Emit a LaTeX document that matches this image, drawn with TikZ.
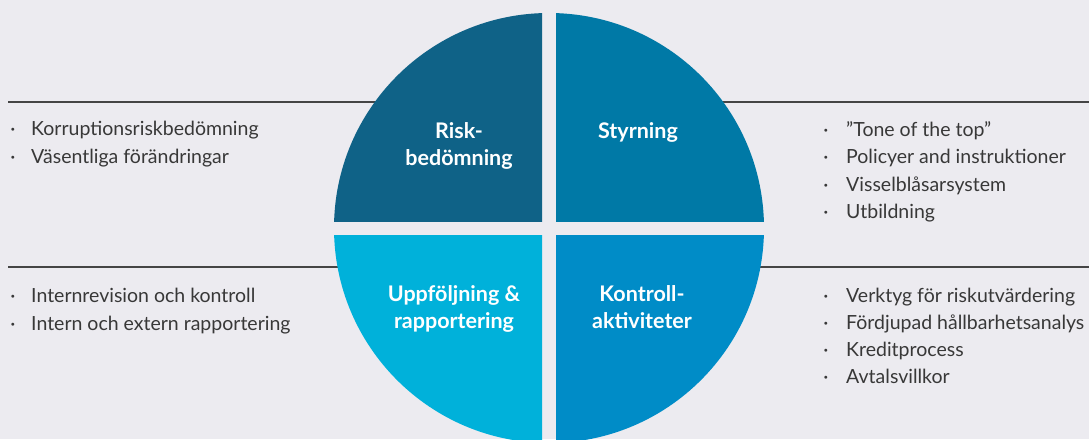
\documentclass[tikz,border=0pt]{standalone}
\usepackage{fontspec}
\setmainfont{Lato}
\definecolor{bgcol}{HTML}{ECEBF0}
\definecolor{txtcol}{HTML}{383838}
\definecolor{rulecol}{HTML}{454545}
\definecolor{riskcol}{HTML}{0F6287}
\definecolor{styrcol}{HTML}{0079A6}
\definecolor{uppfcol}{HTML}{00B1DA}
\definecolor{kontcol}{HTML}{008CC7}
\tikzset{
  item/.style={anchor=base west, inner sep=0pt, text=txtcol,
    font=\fontsize{19.5}{27}\selectfont},
  dotmark/.style={anchor=base, inner sep=0pt, text=txtcol,
    font=\fontsize{19.5}{27}\selectfont},
  quadlabel/.style={anchor=base, align=center, inner sep=0pt, text=white,
    font=\bfseries\fontsize{21.5}{27}\selectfont},
  rule/.style={draw=rulecol, line width=1.1pt}
}
\begin{document}
\begin{tikzpicture}[x=1pt, y=-1pt]
\fill[bgcol] (0,0) rectangle (1089,439);
\useasboundingbox (0,0) rectangle (1089,439);
% rules behind the circle
\draw[rule] (8,102) -- (450,102);
\draw[rule] (650,102) -- (1089,102);
\draw[rule] (8,267) -- (450,267);
\draw[rule] (650,267) -- (1089,267);
% quadrants
\foreach \xa/\xb/\ya/\yb/\col in {320/542/0/221/riskcol, 556/780/0/221/styrcol,
  320/542/235/450/uppfcol, 556/780/235/450/kontcol} {
  \begin{scope}
  \clip (\xa,\ya) rectangle (\xb,\yb);
  \fill[\col] (549,228) circle [radius=215pt];
  \end{scope}
};
% base anchor = baseline of the last line
\node[quadlabel] (risk) at (459,165) {Risk-\\bedömning};
\node[quadlabel] (styr) at (638,138) {Styrning};
\node[quadlabel] (uppf) at (454,328) {Uppföljning \&\\rapportering};
\node[quadlabel] (kont) at (642,328) {Kontroll-\\aktiviteter};
% lists
\foreach \t [count=\i] in {Korruptionsriskbedömning, Väsentliga förändringar} {
  \node[dotmark] (rb\i) at (13,{135+28*(\i-1)}) {·};
  \node[item] (rt\i) at (31,{135+28*(\i-1)}) {\t};
};
\foreach \t [count=\i] in {Internrevision och kontroll, Intern och extern rapportering} {
  \node[dotmark] (ub\i) at (13,{302+28*(\i-1)}) {·};
  \node[item] (ut\i) at (31,{302+28*(\i-1)}) {\t};
};
\foreach \t [count=\i] in {”Tone of the top”, Policyer and instruktioner,
  Visselblåsarsystem, Utbildning} {
  \node[dotmark] (sb\i) at (826,{136+27.5*(\i-1)}) {·};
  \node[item] (st\i) at (846,{136+27.5*(\i-1)}) {\t};
};
\foreach \t [count=\i] in {Verktyg för riskutvärdering, Fördjupad hållbarhetsanalys,
  Kreditprocess, Avtalsvillkor} {
  \node[dotmark] (kb\i) at (826,{302+27*(\i-1)}) {·};
  \node[item] (kt\i) at (846,{302+27*(\i-1)}) {\t};
};
\end{tikzpicture}
\end{document}
